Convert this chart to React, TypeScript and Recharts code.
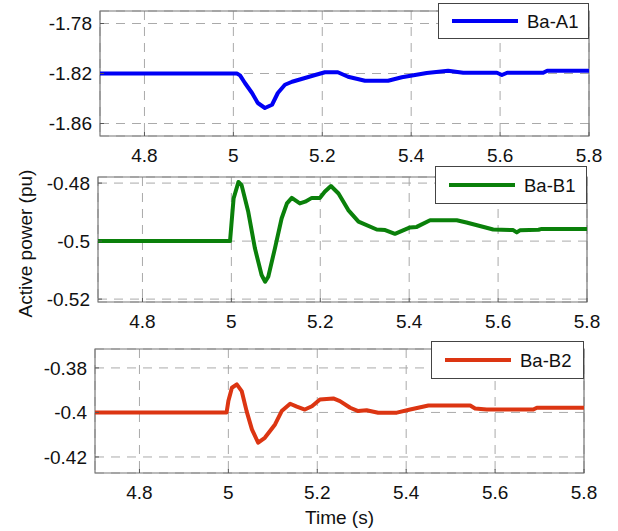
import { CartesianGrid, Label, Legend, Line, LineChart, ReferenceArea, XAxis, YAxis } from 'recharts'

const TIME_TICKS = [4.8, 5, 5.2, 5.4, 5.6, 5.8]

const A1_T = [4.7, 5.008, 5.015, 5.026, 5.042, 5.055, 5.071, 5.087, 5.1, 5.116, 5.132, 5.161, 5.184, 5.206, 5.235, 5.258, 5.296, 5.348, 5.379, 5.435, 5.483, 5.517, 5.593, 5.604, 5.616, 5.697, 5.706, 5.8]
const A1_P = [-1.82, -1.82, -1.8215, -1.8276, -1.8356, -1.8436, -1.8476, -1.845, -1.8356, -1.829, -1.8266, -1.8236, -1.8212, -1.819, -1.819, -1.8226, -1.8258, -1.8258, -1.823, -1.8196, -1.8178, -1.8194, -1.8194, -1.8212, -1.8194, -1.8194, -1.8178, -1.8178]

const B1_T = [4.7, 4.997, 5.0, 5.005, 5.016, 5.023, 5.038, 5.053, 5.068, 5.076, 5.083, 5.098, 5.113, 5.125, 5.136, 5.154, 5.166, 5.181, 5.199, 5.21, 5.224, 5.241, 5.263, 5.286, 5.327, 5.346, 5.368, 5.402, 5.417, 5.447, 5.507, 5.529, 5.589, 5.634, 5.642, 5.649, 5.691, 5.698, 5.8]
const B1_P = [-0.5, -0.5, -0.4945, -0.4853, -0.4796, -0.4807, -0.4899, -0.5025, -0.5117, -0.514, -0.5123, -0.5025, -0.4922, -0.487, -0.4851, -0.487, -0.4864, -0.4851, -0.4851, -0.483, -0.481, -0.4836, -0.4893, -0.4933, -0.496, -0.4962, -0.4975, -0.4953, -0.4951, -0.4928, -0.4928, -0.4936, -0.496, -0.4962, -0.497, -0.4963, -0.4961, -0.4958, -0.4958]

const B2_T = [4.7, 4.996, 5.0, 5.008, 5.019, 5.03, 5.041, 5.053, 5.067, 5.082, 5.105, 5.12, 5.139, 5.154, 5.172, 5.188, 5.206, 5.236, 5.251, 5.274, 5.292, 5.311, 5.337, 5.379, 5.409, 5.45, 5.544, 5.555, 5.581, 5.686, 5.694, 5.8]
const B2_P = [-0.4, -0.4, -0.3949, -0.3889, -0.3874, -0.3904, -0.3994, -0.4076, -0.4136, -0.4114, -0.4054, -0.3994, -0.3961, -0.3974, -0.3987, -0.3972, -0.3942, -0.3937, -0.3949, -0.3979, -0.3994, -0.399, -0.4001, -0.4001, -0.3987, -0.3969, -0.3969, -0.3982, -0.3987, -0.3987, -0.3979, -0.3979]

const FONT = '"Liberation Sans", Arial, Helvetica, sans-serif'

type PanelProps = {
  name: string
  color: string
  times: number[]
  values: number[]
  yDomain: [number, number]
  yTicks: number[]
  top: number
  height: number
  marginTop: number
  xAxisHeight: number
  yAxisWidth: number
  marginRight: number
  legendBox: { left: number; top: number; width: number; height: number }
  yLabel?: boolean
  xLabel?: boolean
}

function LegendBox({ name, color, width, height }: { name: string; color: string; width: number; height: number }) {
  return (
    <div
      style={{
        width,
        height,
        boxSizing: 'border-box',
        border: '1px solid #444',
        background: '#fff',
        position: 'relative',
        overflow: 'hidden',
        fontFamily: FONT,
      }}
    >
      <svg width={width} height={height} style={{ position: 'absolute', left: -1, top: -1 }}>
        <line x1={14} x2={80} y1={height / 2} y2={height / 2} stroke={color} strokeWidth={4} />
        <text x={89} y={height / 2} dy="0.36em" fontSize={18.5} fill="#111" fontFamily={FONT}>
          {name}
        </text>
      </svg>
    </div>
  )
}

function Panel(p: PanelProps) {
  const data = p.times.map((t, i) => ({ t, v: p.values[i] }))
  return (
    <div style={{ position: 'absolute', left: 0, top: p.top, width: 618, height: p.height }}>
      <LineChart
        width={618}
        height={p.height}
        data={data}
        margin={{ top: p.marginTop, right: p.marginRight, bottom: 0, left: 0 }}
        style={{ fontFamily: FONT }}
      >
        <CartesianGrid stroke="#aaa" strokeDasharray="9 7" strokeWidth={1} />
        <XAxis
          dataKey="t"
          type="number"
          domain={[4.7, 5.8]}
          ticks={TIME_TICKS}
          height={p.xAxisHeight}
          axisLine={false}
          tickLine={{ stroke: '#555' }}
          tickSize={-4}
          tickMargin={17}
          tick={{ fill: '#111', fontSize: 19 }}
          allowDataOverflow
        >
          {p.xLabel && <Label value="Time (s)" position="insideBottom" offset={7} fill="#111" fontSize={19} />}
        </XAxis>
        <YAxis
          type="number"
          domain={p.yDomain}
          ticks={p.yTicks}
          width={p.yAxisWidth}
          axisLine={false}
          tickLine={{ stroke: '#555' }}
          tickSize={-4}
          tickMargin={12}
          tick={{ fill: '#111', fontSize: 19 }}
          allowDataOverflow
        >
          {p.yLabel && (
            <Label
              content={({ viewBox }: any) => {
                const cy = viewBox.y + viewBox.height / 2 + 4
                return (
                  <text
                    x={25}
                    y={cy}
                    transform={`rotate(-90 25 ${cy})`}
                    textAnchor="middle"
                    dominantBaseline="central"
                    fontSize={19}
                    fill="#111"
                    fontFamily={FONT}
                  >
                    Active power (pu)
                  </text>
                )
              }}
            />
          )}
        </YAxis>
        <ReferenceArea
          x1={4.7}
          x2={5.8}
          y1={p.yDomain[0]}
          y2={p.yDomain[1]}
          fill="none"
          stroke="#777"
          strokeWidth={1.2}
          ifOverflow="visible"
        />
        <Line
          dataKey="v"
          type="linear"
          stroke={p.color}
          strokeWidth={4}
          dot={false}
          isAnimationActive={false}
          strokeLinejoin="round"
        />
        <Legend
          layout="horizontal"
          verticalAlign="middle"
          align="center"
          wrapperStyle={{ left: p.legendBox.left, top: p.legendBox.top, width: p.legendBox.width, height: p.legendBox.height }}
          content={() => (
            <LegendBox name={p.name} color={p.color} width={p.legendBox.width} height={p.legendBox.height} />
          )}
        />
      </LineChart>
    </div>
  )
}

export default function App() {
  return (
    <div style={{ position: 'absolute', left: 0, top: 0, width: 618, height: 531, background: '#fff' }}>
      <Panel
        name="Ba-A1"
        color="#0000f5"
        times={A1_T}
        values={A1_P}
        yDomain={[-1.87, -1.77]}
        yTicks={[-1.86, -1.82, -1.78]}
        top={0}
        height={170}
        marginTop={11}
        xAxisHeight={34}
        yAxisWidth={100}
        marginRight={29}
        legendBox={{ left: 438, top: 3, width: 151, height: 36 }}
      />
      <Panel
        name="Ba-B1"
        color="#0a800a"
        times={B1_T}
        values={B1_P}
        yDomain={[-0.521, -0.4779]}
        yTicks={[-0.52, -0.5, -0.48]}
        top={155}
        height={185}
        marginTop={22}
        xAxisHeight={38}
        yAxisWidth={98}
        marginRight={31}
        legendBox={{ left: 435, top: 11, width: 152, height: 38 }}
        yLabel
      />
      <Panel
        name="Ba-B2"
        color="#dc3512"
        times={B2_T}
        values={B2_P}
        yDomain={[-0.4272, -0.3715]}
        yTicks={[-0.42, -0.4, -0.38]}
        top={340}
        height={191}
        marginTop={9}
        xAxisHeight={58}
        yAxisWidth={95}
        marginRight={34}
        legendBox={{ left: 431, top: 1, width: 153, height: 38 }}
        xLabel
      />
    </div>
  )
}
